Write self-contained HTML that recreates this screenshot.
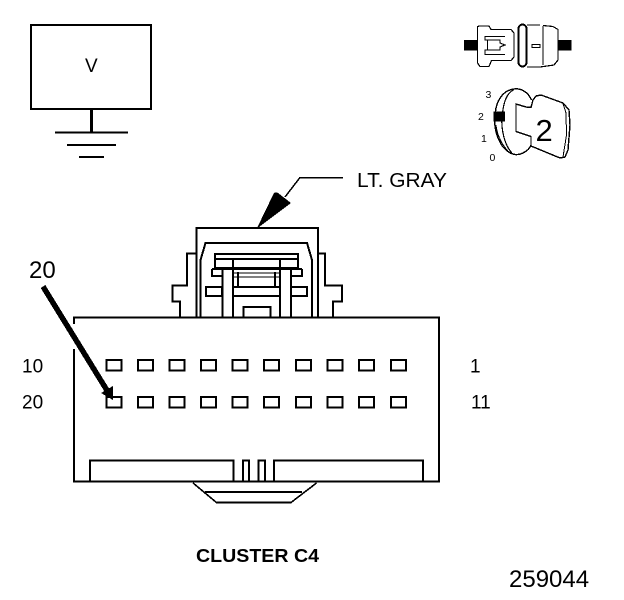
<!DOCTYPE html>
<html>
<head>
<meta charset="utf-8">
<style>
html,body{margin:0;padding:0;background:#fff;}
svg{display:block;shape-rendering:crispEdges;}
text{font-family:"Liberation Sans",sans-serif;fill:#000;}
</style>
</head>
<body>
<svg width="624" height="600" viewBox="0 0 624 600" xmlns="http://www.w3.org/2000/svg" fill="none" stroke="#000" stroke-width="2">
<!-- V box and ground -->
<rect x="31" y="25" width="120" height="84" stroke-width="2.4"/>
<path d="M91.5 109V133" stroke-width="3"/>
<path d="M55 132.5H128M67 145H116M79 157H104" stroke-width="2"/>
<text x="85" y="72" font-size="19" stroke="none">V</text>

<!-- Top-right connector icon -->
<rect x="464" y="40" width="13.5" height="10.5" fill="#000" stroke="none"/>
<rect x="558" y="40" width="13.5" height="10.5" fill="#000" stroke="none"/>
<path d="M477 27L479 26H489L491 29.5H511L514 33V57L511 60.5H491.5L489 66.5H480L477.5 63V27Z" stroke-width="1.2"/>
<path d="M505 36.5H485V40H487.5V50H485V54.5H505M487.5 40H500V43L505 45L500 47V50H487.5" stroke-width="1.2"/>
<rect x="518.5" y="24.5" width="8" height="42" rx="4" stroke-width="2"/>
<path d="M527 25H540" stroke-width="1.2"/>
<path d="M543 25.5L553 26.5L558 29.5V60L554 65L540 67H527" stroke-width="1.2"/>
<path d="M543 26V65" stroke-width="1"/>
<rect x="532" y="44.5" width="8" height="3" stroke-width="1"/>

<!-- Key icon -->
<path d="M531.5 100C528 92 521 88 514 89C504 90 498 99 496 108C493 122 495 136 503 147C510 155 517 156 523 153C527 151 530 148 531 145" stroke-width="1.4"/>
<path d="M514 89.5C505 94 503 106 502 118C501 130 505 146 512 153" stroke-width="1.2"/>
<path d="M496 125C497 135 502 145 508 151" stroke-width="1"/>
<path d="M533 100L536 96L541 95L563 103L569 110L570 125L568 150L565 157L560 158L531 146L531 136.5L516 131.5V104L526 107L531 107.5L533 100Z" stroke-width="1.4"/>
<path d="M563 103.5L566 113L566.500 135L563 157" stroke-width="1"/>
<rect x="493.500" y="111.700" width="11.500" height="10" fill="#000" stroke="none"/>
<text x="535.500" y="141" font-size="31" stroke="none">2</text>
<text x="485.500" y="98" font-size="10.500" stroke="none">3</text>
<text x="478" y="120" font-size="10.500" stroke="none">2</text>
<text x="481" y="142" font-size="10.500" stroke="none">1</text>
<text x="489.500" y="161" font-size="10.500" stroke="none">0</text>

<!-- LT. GRAY leader -->
<path d="M343 177.500H300L285 197" stroke-width="1.500"/>
<path d="M257.500 227L273 195C274 192 276 192 278 193L291 203L259 227Z" fill="#000" stroke="none"/>
<text x="357" y="187" font-size="20" textLength="90" lengthAdjust="spacingAndGlyphs" stroke="none">LT. GRAY</text>

<!-- Connector top -->
<path d="M196.500 317V228H318V317" stroke-width="2.400"/>
<path d="M200.500 317V260L205.500 243H307L312 260V317" stroke-width="2"/>
<path d="M196 253.500H187V285.500H172.500V301.500H180V317" stroke-width="2"/>
<path d="M318 253.500H325V285.500H342V301.500H333V317" stroke-width="2"/>
<rect x="215" y="254" width="83" height="14" stroke-width="2"/>
<path d="M216 259H297" stroke-width="2"/>
<path d="M212 269H302" stroke-width="2"/>
<path d="M212 269V276H222M302 269V276H291" stroke-width="2"/>
<path d="M222.500 269V317M233 259V317M280 259V317M291 269V317" stroke-width="2"/>
<path d="M233 273H280M233 277H280" stroke-width="1"/>
<path d="M238 272V287M275 272V287M233 287H280M233 296H280" stroke-width="2"/>
<rect x="206" y="287" width="16" height="9" stroke-width="2"/>
<rect x="291" y="287" width="16" height="9" stroke-width="2"/>
<path d="M243.500 317V307H270.500V317" stroke-width="2"/>

<!-- Main body -->
<path d="M74 324V317.500H439V481.500H74V349" stroke-width="2.200"/>
<path d="M90 481V460.500H233.500V481" stroke-width="2"/>
<path d="M274 481V460.500H423V481" stroke-width="2"/>
<path d="M243 481V460.500H249V481M258.500 481V460.500H265V481" stroke-width="2"/>
<path d="M193 483L216.500 502.500H291L316.500 483M205 492H302" stroke-width="1.600"/>

<!-- Pins -->
<g stroke-width="1.800">
<rect x="106.500" y="360" width="15" height="10.500"/>
<rect x="138" y="360" width="15" height="10.500"/>
<rect x="169.500" y="360" width="15" height="10.500"/>
<rect x="201" y="360" width="15" height="10.500"/>
<rect x="232.500" y="360" width="15" height="10.500"/>
<rect x="264" y="360" width="15" height="10.500"/>
<rect x="296" y="360" width="15" height="10.500"/>
<rect x="327.500" y="360" width="15" height="10.500"/>
<rect x="359" y="360" width="15" height="10.500"/>
<rect x="391" y="360" width="15" height="10.500"/>
<rect x="106.500" y="397" width="15" height="10.500"/>
<rect x="138" y="397" width="15" height="10.500"/>
<rect x="169.500" y="397" width="15" height="10.500"/>
<rect x="201" y="397" width="15" height="10.500"/>
<rect x="232.500" y="397" width="15" height="10.500"/>
<rect x="264" y="397" width="15" height="10.500"/>
<rect x="296" y="397" width="15" height="10.500"/>
<rect x="327.500" y="397" width="15" height="10.500"/>
<rect x="359" y="397" width="15" height="10.500"/>
<rect x="391" y="397" width="15" height="10.500"/>
</g>

<!-- Pin 20 arrow -->
<path d="M43 286.500L108 392" stroke-width="5.500"/>
<path d="M113 400L101 393L113 386Z" fill="#000" stroke="none"/>

<!-- Labels -->
<text x="29" y="278" font-size="24" stroke="none">20</text>
<text x="22" y="372.500" font-size="19" stroke="none">10</text>
<text x="22" y="408.500" font-size="19" stroke="none">20</text>
<text x="470" y="372.500" font-size="19" stroke="none">1</text>
<text x="471" y="408.500" font-size="19" stroke="none">11</text>
<text x="196" y="562" font-size="18" font-weight="bold" textLength="123" lengthAdjust="spacingAndGlyphs" stroke="none">CLUSTER C4</text>
<text x="509" y="587" font-size="24" stroke="none">259044</text>
</svg>
</body>
</html>
